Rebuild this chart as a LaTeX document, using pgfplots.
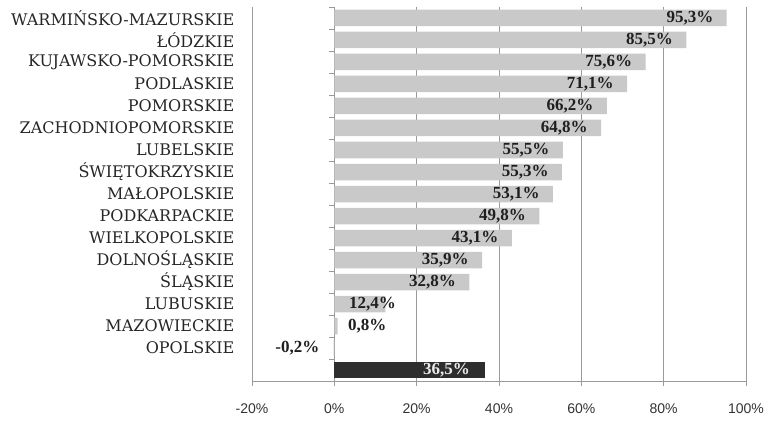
\documentclass[border=0pt]{standalone}
\usepackage{fontspec}
\setmainfont{Liberation Serif}
\newfontfamily\arialf{Liberation Sans}
\newfontfamily\slabf{DejaVu Serif}
\usepackage{pgfplots}
\pgfplotsset{compat=1.18}
\usepackage{pgfplotstable}
\definecolor{barlight}{HTML}{C9C9C9}
\definecolor{bardark}{HTML}{2E2E2E}
\definecolor{gridc}{HTML}{9A9A9A}

\pgfplotstableread{
idx val lx
0 95.3 92.1
1 85.5 82.3
2 75.6 72.4
3 71.1 67.9
4 66.2 63.0
5 64.8 61.6
6 55.5 52.3
7 55.3 52.1
8 53.1 49.9
9 49.8 46.6
10 43.1 39.9
11 35.9 32.7
12 32.8 29.6
13 12.4 15.0
14 0.8 12.7
15 -0.2 -3.6
}\regions
\pgfplotstableread{
idx val lx
16 36.5 33.0
}\poland

\begin{document}
\begin{tikzpicture}
\begin{axis}[name=ax, scale only axis, width=494pt, height=374pt,
  xmin=-20, xmax=100, ymin=-0.5, ymax=16.5, y dir=reverse,
  axis x line=bottom, axis y line=middle,
  axis line style={gridc, line width=0.8pt, -},
  xtick={-20,0,...,100}, xmajorgrids, grid style={gridc, line width=0.8pt},
  ytick={-0.5,0.5,...,16.5}, y tick label as interval,
  yticklabels={WARMIŃSKO-MAZURSKIE, ŁÓDZKIE, KUJAWSKO-POMORSKIE, PODLASKIE, POMORSKIE, ZACHODNIOPOMORSKIE, LUBELSKIE, ŚWIĘTOKRZYSKIE, MAŁOPOLSKIE, PODKARPACKIE, WIELKOPOLSKIE, DOLNOŚLĄSKIE, ŚLĄSKIE, LUBUSKIE, MAZOWIECKIE, OPOLSKIE, POLSKA},
  tick align=outside, major tick length=4.5pt,
  tick style={gridc, line width=0.8pt},
  ytick style={draw=none},
  xticklabel={\pgfmathprintnumber{\tick}\%},
  xticklabel style={font=\arialf\fontsize{14}{14}\selectfont, text=black!80, /pgf/number format/assume math mode=true, yshift=-15pt},
  yticklabel style={font=\slabf\fontsize{16}{16}\selectfont, text=black!85, anchor=east, xshift=-92pt},
  clip=false, unbounded coords=jump,
]
% short tick marks on the zero line, between the categories
\addplot[gridc, line width=0.8pt, mark=none] coordinates {
 (0,-0.5) (-1.3,-0.5) (nan,nan) (0,0.5) (-1.3,0.5) (nan,nan) (0,1.5) (-1.3,1.5) (nan,nan)
 (0,2.5) (-1.3,2.5) (nan,nan) (0,3.5) (-1.3,3.5) (nan,nan) (0,4.5) (-1.3,4.5) (nan,nan)
 (0,5.5) (-1.3,5.5) (nan,nan) (0,6.5) (-1.3,6.5) (nan,nan) (0,7.5) (-1.3,7.5) (nan,nan)
 (0,8.5) (-1.3,8.5) (nan,nan) (0,9.5) (-1.3,9.5) (nan,nan) (0,10.5) (-1.3,10.5) (nan,nan)
 (0,11.5) (-1.3,11.5) (nan,nan) (0,12.5) (-1.3,12.5) (nan,nan) (0,13.5) (-1.3,13.5) (nan,nan)
 (0,14.5) (-1.3,14.5) (nan,nan) (0,15.5) (-1.3,15.5) (nan,nan) (0,16.5) (-1.3,16.5)
};
\addplot[xbar, bar width=16.5pt, bar shift=0pt, fill=barlight, draw=none] table[x=val, y=idx] {\regions};
\addplot[xbar, bar width=16.5pt, bar shift=0pt, fill=bardark, draw=none] table[x=val, y=idx] {\poland};
\addplot[only marks, mark=none, point meta=explicit,
  nodes near coords={\pgfmathprintnumber[fixed, fixed zerofill, precision=1, use comma, assume math mode=true]{\pgfplotspointmeta}\%},
  every node near coord/.append style={anchor=east, inner sep=0pt, font=\bfseries\fontsize{17}{17}\selectfont, text=black!88}]
  table[x=lx, y=idx, meta=val] {\regions};
\addplot[only marks, mark=none, point meta=explicit,
  nodes near coords={\pgfmathprintnumber[fixed, fixed zerofill, precision=1, use comma, assume math mode=true]{\pgfplotspointmeta}\%},
  every node near coord/.append style={anchor=east, inner sep=0pt, font=\bfseries\fontsize{17}{17}\selectfont, text=white!92!black}]
  table[x=lx, y=idx, meta=val] {\poland};
\end{axis}
\path ([xshift=-252pt,yshift=-41pt]ax.south west) rectangle ([xshift=22pt,yshift=7pt]ax.north east);
\end{tikzpicture}
\end{document}
